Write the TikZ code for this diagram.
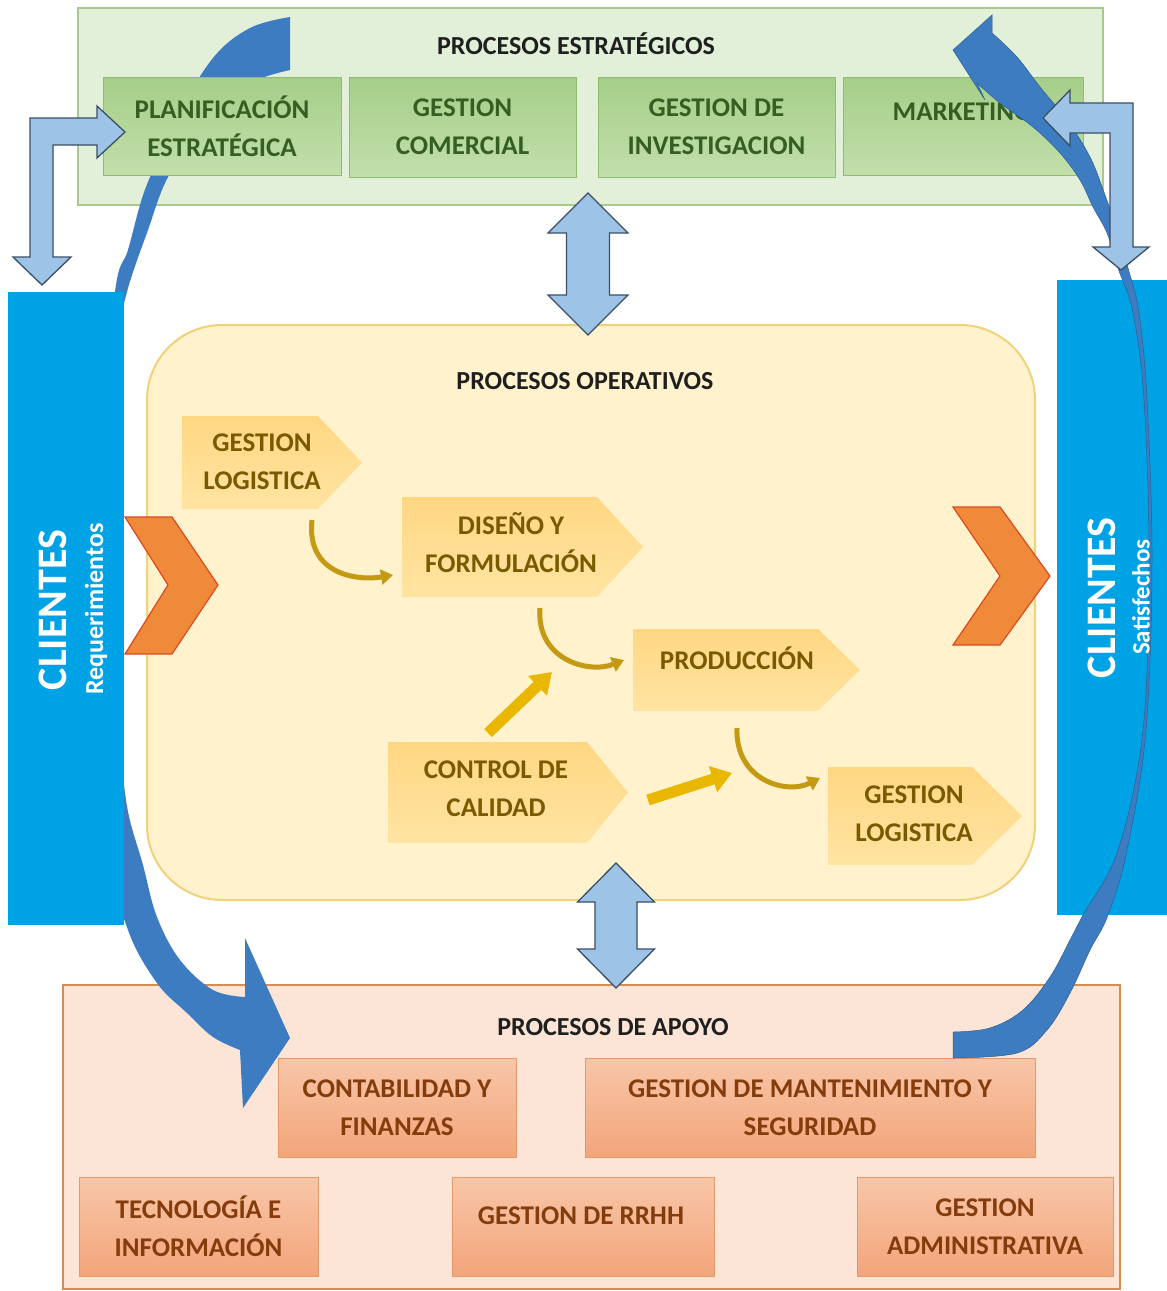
\documentclass[tikz,border=0pt]{standalone}
\usepackage{fontspec}
\setmainfont{Carlito}
\usetikzlibrary{calc,arrows.meta}

\definecolor{gbg}{HTML}{E2EFD9}
\definecolor{gbgline}{HTML}{A9C98C}
\definecolor{gtop}{HTML}{A5CE88}
\definecolor{gbot}{HTML}{C2DFAC}
\definecolor{gline}{HTML}{8FBC72}
\definecolor{gtext}{HTML}{365E22}
\definecolor{opfill}{HTML}{FFF2CC}
\definecolor{opline}{HTML}{F0D27A}
\definecolor{ptop}{HTML}{FFD783}
\definecolor{pbot}{HTML}{FFE4A2}
\definecolor{ptext}{HTML}{7A5A00}
\definecolor{goldfill}{HTML}{EAB700}
\definecolor{golddark}{HTML}{C49A14}
\definecolor{obg}{HTML}{FCE4D6}
\definecolor{obgline}{HTML}{D98C4F}
\definecolor{otop}{HTML}{F8C6A8}
\definecolor{obot}{HTML}{F3A57B}
\definecolor{oline}{HTML}{E59868}
\definecolor{otext}{HTML}{843C0C}
\definecolor{cli}{HTML}{00A2E6}
\definecolor{bandblue}{HTML}{3D7CC1}
\definecolor{bandline}{HTML}{2E5F92}
\definecolor{lb}{HTML}{9DC3E6}
\definecolor{lbline}{HTML}{3B4F66}
\definecolor{chev}{HTML}{F08A3B}
\definecolor{chevline}{HTML}{DA4A1E}
\definecolor{ink}{HTML}{1F1F1F}

\begin{document}
\begin{tikzpicture}[x=1pt,y=-1pt,
  every node/.style={inner sep=0pt},
  title/.style={font=\fontsize{26}{30}\selectfont\bfseries, text=ink},
  boxtext/.style={font=\fontsize{27}{38}\selectfont\bfseries, align=center},
  gbox/.style={boxtext, draw=gline, line width=0.8pt, top color=gtop, bottom color=gbot, text=gtext},
  obox/.style={boxtext, draw=oline, line width=0.8pt, top color=otop, bottom color=obot, text=otext},
  ptxt/.style={boxtext, text=ptext},
  pent/.style={top color=ptop, bottom color=pbot},
  bar/.style={fill=cli},
  bandfill/.style={fill=bandblue},
  lbarrow/.style={fill=lb, draw=lbline, line width=1.3pt, line join=miter},
  chevron/.style={fill=chev, draw=chevline, line width=1.2pt, line join=miter},
  goldcurve/.style={draw=golddark, line width=5pt, -{Triangle[width=15pt,length=12pt]}},
  goldbold/.style={draw=goldfill, line width=11pt, -{Triangle[width=26pt,length=20pt]}},
  clitext/.style={rotate=90, text=white, font=\fontsize{42}{42}\selectfont\bfseries},
  clisub/.style={rotate=90, text=white, font=\fontsize{26}{26}\selectfont\bfseries}
]
\fill[white] (0,0) rectangle (1167,1291);
\useasboundingbox (0,0) rectangle (1167,1291);

% frames of the three process groups
\node[draw=gbgline, fill=gbg, line width=1.5pt, minimum width=1025, minimum height=197] (strat) at (590.5,106.5) {};
\node[draw=obgline, fill=obg, line width=2pt, minimum width=1057, minimum height=304] (apoyo) at (591.5,1137) {};

% customer loop, left side (runs behind the customer bar)
\path[bandfill] plot[smooth, tension=0.6] coordinates {(290,17) (250,28) (213,58) (175,120) (150,177) (140,205) (128,250) (115,292) (103,450) (102,650) (110,850) (128,930) (157,983) (187,1013) (213,1037) (240,1050)}
  -- (243,1108) -- (290,1038) -- (245,938) -- (245,997)
  -- plot[smooth, tension=0.6] coordinates {(245,997) (213,990) (180,960) (157,917) (143,865) (126,800) (119,700) (117,500) (120,340) (127,292) (148,230) (168,177) (205,120) (245,85) (290,70)} -- cycle;

% strategic processes
\node[gbox, minimum width=238, minimum height=98] (plan) at (222,126) {PLANIFICACIÓN\\ESTRATÉGICA};
\node[gbox, minimum width=227, minimum height=100] (com) at (462.5,127) {GESTION\\COMERCIAL};
\node[gbox, minimum width=237, minimum height=100] (inv) at (716.5,127) {GESTION DE\\INVESTIGACION};
\node[gbox, minimum width=240, minimum height=98] (mkt) at (963,126) {};
\node[boxtext, text=gtext] (mktt) at (962,112) {MARKETING};
\node[title] (stratT) at (576,44) {PROCESOS ESTRATÉGICOS};

% support processes
\node[title] (apoyoT) at (613,1027) {PROCESOS DE APOYO};
\node[obox, minimum width=238, minimum height=99] (cont) at (397,1107.5) {CONTABILIDAD Y\\FINANZAS};
\node[obox, minimum width=450, minimum height=99] (mant) at (810,1107.5) {GESTION DE MANTENIMIENTO Y\\SEGURIDAD};
\node[obox, minimum width=239, minimum height=99] (tec) at (198.5,1226.5) {TECNOLOGÍA E\\INFORMACIÓN};
\node[obox, minimum width=262, minimum height=99] (rrhh) at (583,1226.5) {};
\node[boxtext, text=otext] (rrhht) at (581,1216) {GESTION DE RRHH};
\node[obox, minimum width=256, minimum height=99] (adm) at (985,1226.5) {GESTION\\ADMINISTRATIVA};

% operative processes
\node[draw=opline, fill=opfill, line width=2pt, rounded corners=75pt, minimum width=888, minimum height=575] (oper) at (591,612.5) {};
\node[title] (operT) at (585,381) {PROCESOS OPERATIVOS};

% customer bars
\node[bar, minimum width=116, minimum height=633] (cl) at (66,608.5) {};
\node[bar, minimum width=110, minimum height=635] (cr) at (1112,597.5) {};

% customer loop, right side (thin where it crosses the bar)
\path[bandfill, draw=bandline, line width=0.5pt] plot[smooth, tension=0.6] coordinates {(953,1058) (1017,1053) (1047,1030) (1070,993) (1090,950) (1108,915) (1127,850) (1146,730) (1152,560) (1147,400) (1139,313) (1128,268) (1118,233) (1105,195) (1090,157) (1067,120) (1040,87) (1017,57) (992,33)}
  -- (992,15) -- (953,50) -- (985,100) -- (977,83)
  -- plot[smooth, tension=0.6] coordinates {(977,83) (1000,103) (1033,127) (1060,153) (1080,180) (1093,207) (1107,233) (1118,268) (1133,313) (1144,400) (1149,560) (1143,730) (1118,850) (1083,915) (1070,940) (1050,977) (1023,1010) (990,1028) (953,1032)} -- cycle;

% customer labels
\node[clitext] (clt) at (53,610) {CLIENTES};
\node[clisub] (cls) at (96,609) {Requerimientos};
\node[clitext] (crt) at (1102,598) {CLIENTES};
\node[clisub, font=\fontsize{25}{25}\selectfont\bfseries] (crs) at (1141,597) {Satisfechos};

% bent arrows between customers and strategy
\path[lbarrow] (125,132) -- (97,158) -- (97,145) -- (53,145) -- (53,257) -- (71,257) -- (42,285) -- (13,257) -- (30,257) -- (30,118) -- (97,118) -- (97,106) -- cycle;
\path[lbarrow] (1043,118) -- (1070,90) -- (1070,103) -- (1133,103) -- (1133,247) -- (1149,247) -- (1121,270) -- (1093,247) -- (1110,247) -- (1110,133) -- (1070,133) -- (1070,146) -- cycle;

% two-way links between the groups
\path[lbarrow] (588,193) -- (628,233) -- (609.5,233) -- (609.5,295) -- (628,295) -- (588,335) -- (548,295) -- (566.5,295) -- (566.5,233) -- (548,233) -- cycle;
\path[lbarrow] (616,863) -- (654.5,902) -- (637,902) -- (637,949) -- (654.5,949) -- (616,988) -- (577.5,949) -- (595,949) -- (595,902) -- (577.5,902) -- cycle;

% chevrons
\path[chevron] (125,517) -- (172,517) -- (218,585) -- (172,654) -- (125,654) -- (168,585) -- cycle;
\path[chevron] (953,507) -- (1000,507) -- (1050,576) -- (1000,645) -- (953,645) -- (1000,576) -- cycle;

% operative steps
\path[pent] (182,416) -- (318,416) -- (362,462.5) -- (318,509) -- (182,509) -- cycle;
\node[ptxt] (gl1) at (262,462) {GESTION\\LOGISTICA};
\path[pent] (402,497) -- (597,497) -- (643,547) -- (597,597) -- (402,597) -- cycle;
\node[ptxt] (dis) at (511,543) {DISEÑO Y\\FORMULACIÓN};
\path[pent] (633,629) -- (818,629) -- (860,670) -- (818,711) -- (633,711) -- cycle;
\node[ptxt] (prod) at (737,658) {PRODUCCIÓN};
\path[pent] (388,742) -- (587,742) -- (628,792.5) -- (587,843) -- (388,843) -- cycle;
\node[ptxt] (cc) at (496,789) {CONTROL DE\\CALIDAD};
\path[pent] (828,767) -- (972,767) -- (1022,816) -- (972,865) -- (828,865) -- cycle;
\node[ptxt] (gl2) at (914,814) {GESTION\\LOGISTICA};

% flow between steps
\draw[goldcurve] ($(gl1.center)+(50,58)$) .. controls +(-6,55) and +(-35,6) .. ($(dis.center)+(-118,32)$);
\draw[goldcurve] ($(dis.center)+(29,65)$) .. controls +(-4,52) and +(-35,14) .. ($(prod.center)+(-113,2)$);
\draw[goldcurve] ($(prod.center)+(0,70)$) .. controls +(-2,52) and +(-34,17) .. ($(gl2.center)+(-94,-36)$);
\draw[goldbold] ($(cc.center)+(-8,-56)$) -- ($(prod.center)+(-185,14)$);
\draw[goldbold] ($(cc.center)+(152,11)$) -- ($(gl2.center)+(-182,-41)$);
\end{tikzpicture}
\end{document}
